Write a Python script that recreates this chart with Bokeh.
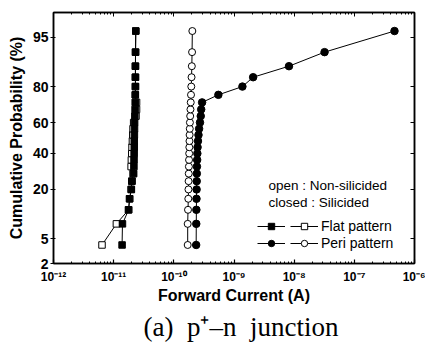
from statistics import NormalDist
from bokeh.plotting import figure
from bokeh.models import (Range1d, FixedTicker, LogAxis, LinearAxis, Title,
                          CustomJSTickFormatter, Label, Legend, LegendItem)
from bokeh.embed import file_html
from bokeh.resources import INLINE

# ---------------- data ----------------
prob = [4, 8, 12, 16, 20, 24, 28, 32, 36, 40, 44, 48,
        52, 56, 60, 64, 68, 72, 76, 80, 84, 88, 92, 96]

flat_closed = [1.38e-11, 1.40e-11, 1.77e-11, 1.84e-11, 1.97e-11, 2.02e-11,
               2.15e-11, 2.17e-11, 2.18e-11, 2.19e-11, 2.20e-11, 2.20e-11,
               2.21e-11, 2.22e-11, 2.23e-11, 2.25e-11, 2.27e-11, 2.28e-11,
               2.29e-11, 2.30e-11, 2.30e-11, 2.30e-11, 2.31e-11, 2.33e-11]

flat_open = [6.4e-12, 1.11e-11, 1.77e-11, 1.84e-11, 1.95e-11, 2.00e-11,
             2.10e-11, 1.95e-11, 1.97e-11, 2.00e-11, 2.02e-11, 2.05e-11,
             2.08e-11, 2.10e-11, 2.15e-11, 2.35e-11, 2.40e-11, 2.40e-11,
             2.29e-11, 2.30e-11, 2.30e-11, 2.30e-11, 2.31e-11, 2.33e-11]

peri_closed = [2.35e-10, 2.36e-10, 2.37e-10, 2.38e-10, 2.39e-10, 2.40e-10,
               2.41e-10, 2.42e-10, 2.44e-10, 2.46e-10, 2.48e-10, 2.52e-10,
               2.57e-10, 2.63e-10, 2.72e-10, 2.80e-10, 2.85e-10, 2.95e-10,
               5.5e-10, 1.38e-9, 2.08e-9, 8.2e-9, 3.2e-8, 4.65e-7]

peri_open = [1.70e-10, 1.70e-10, 1.72e-10, 1.74e-10, 1.75e-10, 1.76e-10,
             1.77e-10, 1.78e-10, 1.79e-10, 1.80e-10, 1.81e-10, 1.82e-10,
             1.83e-10, 1.84e-10, 1.85e-10, 1.87e-10, 1.89e-10, 1.91e-10,
             1.93e-10, 1.95e-10, 1.97e-10, 1.99e-10, 2.01e-10, 2.03e-10]

y_tick_values = [2, 5, 20, 40, 60, 80, 95]
y_tick_labels = ["2", "5", "20", "40", "60", "80", "95"]
x_decades = [-12, -11, -10, -9, -8, -7, -6]
y_limits = [2, 98]

# ---------------- helpers ----------------
nd = NormalDist()


def q(pc):
    return nd.inv_cdf(pc / 100.0)


zp = [q(v) for v in prob]
z_ticks = [q(v) for v in y_tick_values]
x_major = [10.0 ** e for e in x_decades]
x_minor = [k * 10.0 ** e for e in x_decades[:-1] for k in range(2, 10)]

FONT = "Liberation Sans"

p = figure(width=425, height=345, x_axis_type="log",
           x_range=Range1d(x_major[0], x_major[-1]),
           y_range=Range1d(q(y_limits[0]), q(y_limits[1])),
           output_backend="svg", toolbar_location=None,
           min_border_left=53, min_border_right=11,
           min_border_top=12, min_border_bottom=81)
p.grid.visible = False
p.outline_line_color = "black"
p.outline_line_width = 1.5
p.background_fill_color = "white"
p.border_fill_color = "white"

xfmt = CustomJSTickFormatter(code="""
const e = Math.round(Math.log10(tick));
const sup = {'-':'\u207b','0':'\u2070','1':'\u00b9','2':'\u00b2','3':'\u00b3',
             '4':'\u2074','5':'\u2075','6':'\u2076','7':'\u2077','8':'\u2078','9':'\u2079'};
return '10' + String(e).split('').map(c => sup[c]).join('');
""")
yfmt = CustomJSTickFormatter(args=dict(ztk=z_ticks, lbls=y_tick_labels), code="""
for (let i = 0; i < ztk.length; i++) {
  if (Math.abs(ztk[i] - tick) < 1e-6) return lbls[i];
}
return '';
""")

xticker = FixedTicker(ticks=x_major, minor_ticks=x_minor)
yticker = FixedTicker(ticks=z_ticks, minor_ticks=[])

xa = p.xaxis[0]
xa.ticker = xticker
xa.formatter = xfmt
xa.axis_label = "Forward Current (A)"
xa.axis_label_text_font = FONT
xa.axis_label_text_font_style = "bold"
xa.axis_label_text_font_size = "16px"
xa.axis_label_text_color = "black"
xa.axis_label_standoff = 0
xa.major_label_text_font = FONT
xa.major_label_text_font_style = "bold"
xa.major_label_text_font_size = "12px"
xa.major_label_text_color = "black"
xa.major_label_standoff = 6
xa.major_tick_in = 4
xa.major_tick_out = 0
xa.minor_tick_in = 2
xa.minor_tick_out = 0
xa.axis_line_width = 1.5
xa.major_tick_line_width = 1.2

ya = p.yaxis[0]
ya.ticker = yticker
ya.formatter = yfmt
ya.axis_label = "Cumulative Probability (%)"
ya.axis_label_text_font = FONT
ya.axis_label_text_font_style = "bold"
ya.axis_label_text_font_size = "16px"
ya.axis_label_text_color = "black"
ya.axis_label_standoff = 5
ya.major_label_text_font = FONT
ya.major_label_text_font_style = "bold"
ya.major_label_text_font_size = "14px"
ya.major_label_text_color = "black"
ya.major_label_standoff = 2
ya.major_tick_in = 2
ya.major_tick_out = 3
ya.minor_tick_in = 0
ya.minor_tick_out = 0
ya.axis_line_width = 1.5
ya.major_tick_line_width = 1.2

top = LogAxis(ticker=xticker, formatter=xfmt,
              major_label_text_font_size="1px", major_label_text_alpha=0,
              major_label_standoff=0, major_tick_in=4, major_tick_out=0,
              minor_tick_in=2, minor_tick_out=0, axis_line_width=1.5)
p.add_layout(top, "above")
right = LinearAxis(ticker=yticker, formatter=yfmt,
                   major_label_text_font_size="1px", major_label_text_alpha=0,
                   major_label_standoff=0, major_tick_in=4, major_tick_out=0,
                   minor_tick_in=0, minor_tick_out=0, axis_line_width=1.5)
p.add_layout(right, "right")

# ---------------- series ----------------
l_fo = p.line(flat_open, zp, line_color="black", line_width=1)
l_fc = p.line(flat_closed, zp, line_color="black", line_width=1)
l_po = p.line(peri_open, zp, line_color="black", line_width=1)
l_pc = p.line(peri_closed, zp, line_color="black", line_width=1)

s_fo = p.scatter(flat_open, zp, marker="square", size=6.5,
                 fill_color="white", line_color="black", line_width=1)
s_po = p.scatter(peri_open, zp, marker="circle", size=7,
                 fill_color="white", line_color="black", line_width=1)
s_fc = p.scatter(flat_closed, zp, marker="square", size=6.5,
                 fill_color="black", line_color="black")
s_pc = p.scatter(peri_closed, zp, marker="circle", size=7.5,
                 fill_color="black", line_color="black")

# ---------------- legend ----------------
legA = Legend(items=[LegendItem(label=" ", renderers=[l_fc, s_fc]),
                     LegendItem(label=" ", renderers=[l_pc, s_pc])],
              location=(204, 12), glyph_width=28, glyph_height=16,
              label_width=1, label_standoff=0, label_height=16,
              label_text_font_size="1px",
              padding=0, margin=0, spacing=1,
              background_fill_alpha=0, border_line_alpha=0)
legB = Legend(items=[LegendItem(label="Flat pattern", renderers=[l_fo, s_fo]),
                     LegendItem(label="Peri pattern", renderers=[l_po, s_po])],
              location=(237, 12), glyph_width=28, glyph_height=16,
              label_standoff=3, label_height=16,
              label_text_font=FONT, label_text_font_size="14px",
              label_text_color="black",
              padding=0, margin=0, spacing=1,
              background_fill_alpha=0, border_line_alpha=0)
p.add_layout(legA)
p.add_layout(legB)

for txt, yy in [("open : Non-silicided", 78), ("closed : Silicided", 61)]:
    p.add_layout(Label(x=215, y=yy, x_units="screen", y_units="screen",
                       text=txt, text_font=FONT, text_font_size="13.5px",
                       text_baseline="middle", text_color="black"))

cap = Title(text="(a)\u2002p\u207a\u2013n\u2002junction", align="left",
            text_font="Liberation Serif", text_font_size="27px",
            text_font_style="normal", text_color="black",
            offset=90, standoff=7)
p.add_layout(cap, "below")

with open("out.html", "w", encoding="utf-8") as f:
    f.write(file_html(p, INLINE))
